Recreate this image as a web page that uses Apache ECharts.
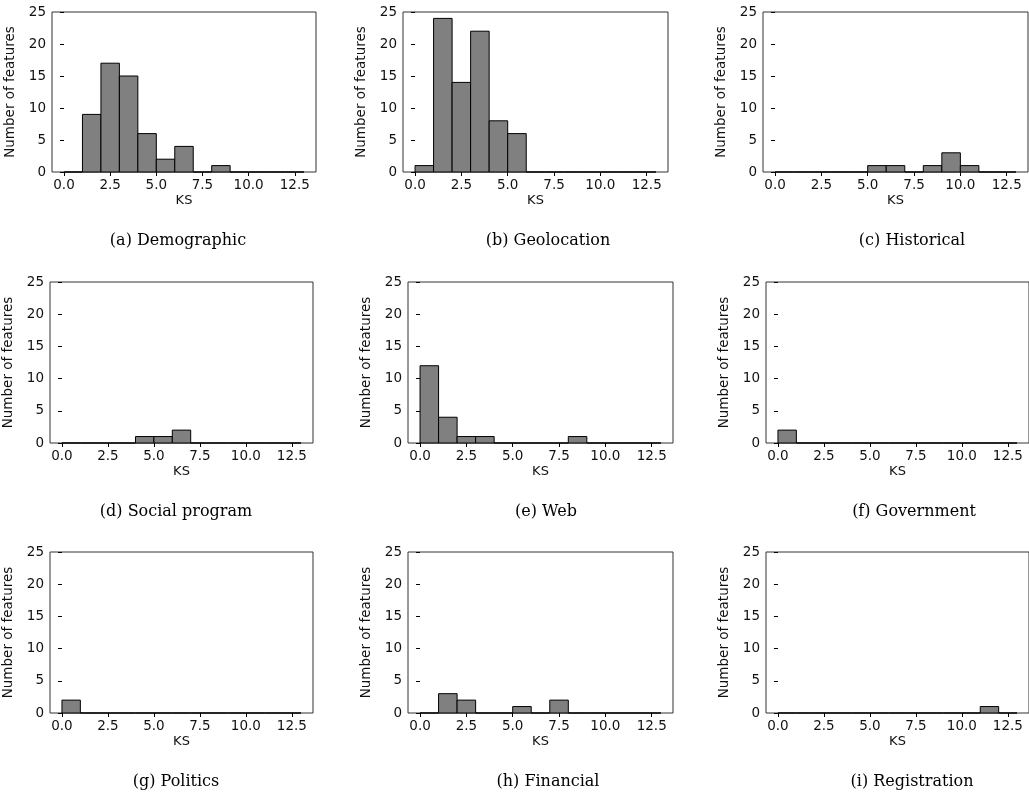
<!DOCTYPE html>
<html>
<head>
<meta charset="utf-8">
<script src="https://cdn.jsdelivr.net/npm/echarts@6/dist/echarts.min.js"></script>
<style>
  html, body { margin: 0; padding: 0; background: #fff; }
  #chart { width: 1029px; height: 794px; }
</style>
</head>
<body>
<div id="chart"></div>
<script>
// bin edges of the KS histograms (width 1, 0..13)
const binEdges = [0, 1, 2, 3, 4, 5, 6, 7, 8, 9, 10, 11, 12, 13];
// counts per bin for each panel
const demographic   = [0, 9, 17, 15, 6, 2, 4, 0, 1, 0, 0, 0, 0];
const geolocation   = [1, 24, 14, 22, 8, 6, 0, 0, 0, 0, 0, 0, 0];
const historical    = [0, 0, 0, 0, 0, 1, 1, 0, 1, 3, 1, 0, 0];
const socialProgram = [0, 0, 0, 0, 1, 1, 2, 0, 0, 0, 0, 0, 0];
const web           = [12, 4, 1, 1, 0, 0, 0, 0, 1, 0, 0, 0, 0];
const government    = [2, 0, 0, 0, 0, 0, 0, 0, 0, 0, 0, 0, 0];
const politics      = [2, 0, 0, 0, 0, 0, 0, 0, 0, 0, 0, 0, 0];
const financial     = [0, 3, 2, 0, 0, 1, 0, 2, 0, 0, 0, 0, 0];
const registration  = [0, 0, 0, 0, 0, 0, 0, 0, 0, 0, 0, 1, 0];

const panelCounts = [demographic, geolocation, historical, socialProgram, web,
  government, politics, financial, registration];
const captions = ['(a) Demographic', '(b) Geolocation', '(c) Historical',
  '(d) Social program', '(e) Web', '(f) Government',
  '(g) Politics', '(h) Financial', '(i) Registration'];
const xTicks = [0, 2.5, 5, 7.5, 10, 12.5];
const xName = 'KS';
const yName = 'Number of features';

// layout of the 3x3 grid (pixels)
const gridBoxes = [
  [52, 12, 264, 160], [403, 12, 265, 160], [763, 12, 265, 160],
  [49, 282, 264, 161], [408, 282, 265, 161], [766, 282, 263, 161],
  [49, 552, 264, 161], [408, 552, 265, 161], [766, 552, 263, 161]
];
const captionPos = [
  [178, 241], [548, 241], [912, 241],
  [176, 512], [546, 512], [914, 512],
  [176, 782], [548, 782], [912, 782]
];

const tickFont = { fontFamily: 'DejaVu Sans', fontSize: 13.5, color: '#111' };

var myChart = echarts.init(document.getElementById('chart'));

var grids = [], xAxes = [], yAxes = [], series = [], graphics = [];
panelCounts.forEach(function (counts, i) {
  var b = gridBoxes[i];
  grids.push({
    left: b[0], top: b[1], width: b[2], height: b[3],
    show: true, borderColor: '#333', borderWidth: 1, backgroundColor: 'transparent'
  });
  xAxes.push({
    gridIndex: i, type: 'value', min: -0.65, max: 13.65,
    name: xName, nameLocation: 'middle', nameGap: 22,
    nameTextStyle: { fontFamily: 'DejaVu Sans', fontSize: 13, color: '#111' },
    axisLine: { show: false },
    axisTick: { show: true, length: 4, customValues: xTicks, lineStyle: { color: '#000' } },
    axisLabel: Object.assign({ customValues: xTicks, margin: 6,
      formatter: function (v) { return v.toFixed(1); } }, tickFont),
    splitLine: { show: false }
  });
  yAxes.push({
    gridIndex: i, type: 'value', min: 0, max: 25, interval: 5,
    name: yName, nameLocation: 'middle', nameGap: 35, nameRotate: 90,
    nameTextStyle: { fontFamily: 'DejaVu Sans', fontSize: 13.5, color: '#111' },
    axisLine: { show: false },
    axisTick: { show: true, length: 4, lineStyle: { color: '#000' } },
    axisLabel: Object.assign({ margin: 6 }, tickFont),
    splitLine: { show: false }
  });
  var data = counts.map(function (c, k) { return [binEdges[k], binEdges[k + 1], c]; });
  series.push({
    type: 'custom', xAxisIndex: i, yAxisIndex: i,
    encode: { x: [0, 1], y: 2 },
    data: data,
    renderItem: function (params, api) {
      var p0 = api.coord([api.value(0), api.value(2)]);
      var p1 = api.coord([api.value(1), 0]);
      return {
        type: 'rect',
        shape: { x: p0[0], y: p0[1], width: p1[0] - p0[0], height: p1[1] - p0[1] },
        style: { fill: '#808080', stroke: '#000', lineWidth: 1 }
      };
    }
  });
  graphics.push({
    type: 'text', x: captionPos[i][0], y: captionPos[i][1],
    style: {
      text: captions[i], font: '16px "DejaVu Serif"', fill: '#000',
      align: 'center', verticalAlign: 'middle',
      textAlign: 'center', textVerticalAlign: 'middle'
    }
  });
});

var option = {
  animation: false,
  grid: grids,
  xAxis: xAxes,
  yAxis: yAxes,
  series: series,
  graphic: graphics
};

myChart.setOption(option);
</script>
</body>
</html>
